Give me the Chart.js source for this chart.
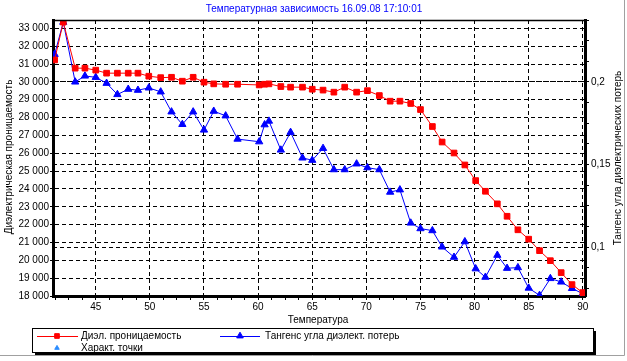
<!DOCTYPE html>
<html>
<head>
<meta charset="utf-8">
<script src="https://cdn.jsdelivr.net/npm/chart.js@4.4.0/dist/chart.umd.min.js"></script>
<style>
html,body{margin:0;padding:0;background:#fff;}
#wrap{width:627px;height:361px;position:relative;}
</style>
</head>
<body>
<div id="wrap"><canvas id="c" width="627" height="361"></canvas></div>
<script>
// ---- texts ----
const chartTitle = 'Температурная зависимость 16.09.08 17:10:01';
const xTitle = 'Температура';
const yLeftTitle = 'Диэлектрическая проницаемость';
const yRightTitle = 'Тангенс угла диэлектрических потерь';
const seriesNames = ['Диэл. проницаемость', 'Тангенс угла диэлект. потерь', 'Характ. точки'];

// ---- data ----
const temperature = [41.2, 42.0, 43.1, 44.0, 45.0, 46.0, 47.0, 48.0, 48.9, 49.9,
  51.0, 52.0, 53.0, 54.0, 55.0, 55.9, 57.0, 58.1, 60.1, 60.6,
  61.0, 62.1, 63.0, 64.1, 65.0, 66.0, 67.0, 68.0, 69.1, 70.1,
  71.2, 72.2, 73.1, 74.1, 75.0, 76.1, 77.0, 78.1, 79.1, 80.1,
  81.0, 82.1, 83.0, 84.0, 85.0, 86.0, 87.0, 88.0, 89.0, 90.0];
const permittivity = [31230, 33350, 30770, 30770, 30660, 30490, 30490, 30490, 30490, 30320,
  30240, 30260, 30040, 30260, 29985, 29890, 29870, 29870, 29830, 29870,
  29890, 29740, 29705, 29705, 29590, 29540, 29425, 29705, 29425, 29510,
  29235, 28920, 28920, 28790, 28450, 27500, 26630, 26015, 25345, 24470,
  23870, 23165, 22470, 21710, 21186, 20540, 19980, 19310, 18640, 18190];
const lossTangent = [0.2167, 0.2362, 0.2000, 0.2036, 0.2028, 0.1992, 0.1924, 0.1956, 0.1950, 0.1964,
  0.1940, 0.1819, 0.1743, 0.1819, 0.1709, 0.1823, 0.1795, 0.1654, 0.1638, 0.1741,
  0.1763, 0.1588, 0.1695, 0.1540, 0.1526, 0.1598, 0.1469, 0.1469, 0.1504, 0.1481,
  0.1469, 0.1333, 0.1347, 0.1146, 0.1112, 0.1100, 0.1001, 0.0939, 0.1033, 0.0869,
  0.0818, 0.0951, 0.0872, 0.0876, 0.0752, 0.0708, 0.0810, 0.0789, 0.0750, 0.0718];
const characteristicPoints = [];

// ---- ticks ----
const xTickValues = [45, 50, 55, 60, 65, 70, 75, 80, 85, 90];
const leftTickValues = [18000, 19000, 20000, 21000, 22000, 23000, 24000, 25000, 26000,
  27000, 28000, 29000, 30000, 31000, 32000, 33000];
const rightTickValues = [0.1, 0.15, 0.2];

// ---- styling helpers ----
const FONT = '"Liberation Sans", Arial, sans-serif';
Chart.defaults.font.family = FONT;
Chart.defaults.font.size = 10;
Chart.defaults.color = '#000';

const near = (a, b) => Math.abs(a - b) < 1e-7;
const isMajorX = v => xTickValues.some(t => near(t, v));
const isMajorR = v => rightTickValues.some(t => near(t, v));
const xAllTicks = [];
for (let k = 33; k <= 72; k++) xAllTicks.push(k * 1.25);
const rAllTicks = [];
for (let k = 6; k <= 19; k++) rAllTicks.push(Math.round(k * 0.0125 * 1e6) / 1e6);

const fmtThousands = v => String(Math.round(v)).replace(/\B(?=(\d{3})+(?!\d))/g, ' ');
const toXY = ys => temperature.map((t, i) => ({x: t, y: ys[i]}));

const decor = {
  id: 'decor',
  beforeDraw(chart) {
    const ctx = chart.ctx;
    ctx.save();
    ctx.fillStyle = '#fff';
    ctx.fillRect(0, 0, chart.width, chart.height);
    ctx.restore();
  },
  afterDraw(chart) {
    const ctx = chart.ctx, a = chart.chartArea;
    ctx.save();
    // top frame of plot area
    ctx.strokeStyle = '#000';
    ctx.lineWidth = 1.5;
    ctx.beginPath();
    ctx.moveTo(a.left, a.top + 0.5);
    ctx.lineTo(a.right, a.top + 0.5);
    ctx.stroke();

    // titles
    ctx.font = '10px ' + FONT;
    ctx.textAlign = 'center';
    ctx.textBaseline = 'middle';
    ctx.fillStyle = '#0000ff';
    ctx.fillText(chartTitle, 314, 9);
    ctx.fillStyle = '#000';
    ctx.fillText(xTitle, 318, 320);

    ctx.save();
    ctx.translate(9, 157);
    ctx.rotate(-Math.PI / 2);
    ctx.fillText(yLeftTitle, 0, 0);
    ctx.restore();

    ctx.save();
    ctx.translate(618.5, 158);
    ctx.rotate(-Math.PI / 2);
    ctx.fillText(yRightTitle, 0, 0);
    ctx.restore();

    // legend box with shadow
    const lx = 32, ly = 328, lw = 561, lh = 24;
    ctx.fillStyle = '#000';
    ctx.fillRect(lx + 3, ly + 3, lw, lh);
    ctx.fillStyle = '#fff';
    ctx.fillRect(lx, ly, lw, lh);
    ctx.strokeStyle = '#000';
    ctx.lineWidth = 1;
    ctx.strokeRect(lx + 0.5, ly + 0.5, lw, lh);

    const items = [
      {x0: 37, x1: 78, mx: 57, y: 336, tx: 81, line: true, r: 3.3},
      {x0: 220, x1: 260, mx: 240, y: 336, tx: 265, line: true, r: 3.8},
      {x0: 0, x1: 0, mx: 57, y: 348, tx: 81, line: false, r: 2.6}
    ];
    chart.data.datasets.forEach((ds, i) => {
      const it = items[i];
      ctx.strokeStyle = ds.borderColor;
      ctx.fillStyle = ds.backgroundColor;
      if (it.line) {
        ctx.lineWidth = 1;
        ctx.beginPath();
        ctx.moveTo(it.x0, it.y + 0.5);
        ctx.lineTo(it.x1, it.y + 0.5);
        ctx.stroke();
      }
      Chart.helpers.drawPoint(ctx, {pointStyle: ds.pointStyle, radius: it.r, borderWidth: 1, rotation: 0}, it.mx, it.y);
      ctx.fillStyle = '#000';
      ctx.textAlign = 'left';
      ctx.textBaseline = 'middle';
      ctx.font = '10px ' + FONT;
      ctx.fillText(ds.label, it.tx, it.y + 0.5);
    });

    // outer grey frame (right and bottom)
    ctx.strokeStyle = '#a0a0a0';
    ctx.lineWidth = 1;
    ctx.beginPath();
    ctx.moveTo(624.5, 0);
    ctx.lineTo(624.5, 355.5);
    ctx.lineTo(0, 355.5);
    ctx.stroke();
    ctx.restore();
  }
};

new Chart(document.getElementById('c'), {
  type: 'line',
  data: {
    datasets: [
      {label: seriesNames[0], data: toXY(permittivity), yAxisID: 'y',
        borderColor: '#ff0000', backgroundColor: '#ff0000', borderWidth: 1,
        pointStyle: 'rect', pointRadius: 4, pointBorderWidth: 1, tension: 0},
      {label: seriesNames[1], data: toXY(lossTangent), yAxisID: 'y1',
        borderColor: '#0000ff', backgroundColor: '#0000ff', borderWidth: 1,
        pointStyle: 'triangle', pointRadius: 4.2, pointBorderWidth: 1, tension: 0},
      {label: seriesNames[2], data: characteristicPoints, yAxisID: 'y1', showLine: false,
        borderColor: '#2a8cff', backgroundColor: '#2a8cff',
        pointStyle: 'triangle', pointRadius: 3}
    ]
  },
  options: {
    responsive: false,
    animation: false,
    devicePixelRatio: 1,
    events: [],
    layout: {padding: {left: 0, right: 0, top: 20, bottom: 0}, autoPadding: false},
    plugins: {legend: {display: false}, title: {display: false}, tooltip: {enabled: false}},
    scales: {
      x: {
        type: 'linear', position: 'bottom', min: 41.05, max: 90.2,
        afterFit: s => { s.height = 65; },
        afterBuildTicks: s => { s.ticks = xAllTicks.map(v => ({value: v})); },
        ticks: {autoSkip: false, maxRotation: 0, minRotation: 0, padding: 1,
          callback: v => isMajorX(v) ? String(Math.round(v)) : ''},
        grid: {color: c => (c.tick && isMajorX(c.tick.value)) ? '#000' : 'rgba(0,0,0,0)',
          lineWidth: 1, tickColor: '#000', tickLength: 4},
        border: {display: true, color: '#000', width: 3, dash: [4, 3]}
      },
      y: {
        type: 'linear', position: 'left', min: 18000, max: 33470,
        afterFit: s => { s.width = 53; },
        afterBuildTicks: s => { s.ticks = leftTickValues.map(v => ({value: v})); },
        ticks: {autoSkip: false, padding: 1, callback: v => fmtThousands(v)},
        grid: {color: '#000', lineWidth: 1, tickColor: '#000', tickLength: 3},
        border: {display: true, color: '#000', width: 3, dash: [4, 3]}
      },
      y1: {
        type: 'linear', position: 'right', min: 0.0704, max: 0.2375,
        afterFit: s => { s.width = 42; },
        afterBuildTicks: s => { s.ticks = rAllTicks.map(v => ({value: v})); },
        ticks: {autoSkip: false, padding: 2,
          callback: v => isMajorR(v) ? String(Math.round(v * 100) / 100).replace('.', ',') : ''},
        grid: {color: c => (c.tick && isMajorR(c.tick.value)) ? '#000' : 'rgba(0,0,0,0)',
          lineWidth: 1, tickColor: '#000', tickLength: 4},
        border: {display: true, color: '#000', width: 3, dash: [4, 3]}
      }
    }
  },
  plugins: [decor]
});
</script>
</body>
</html>
